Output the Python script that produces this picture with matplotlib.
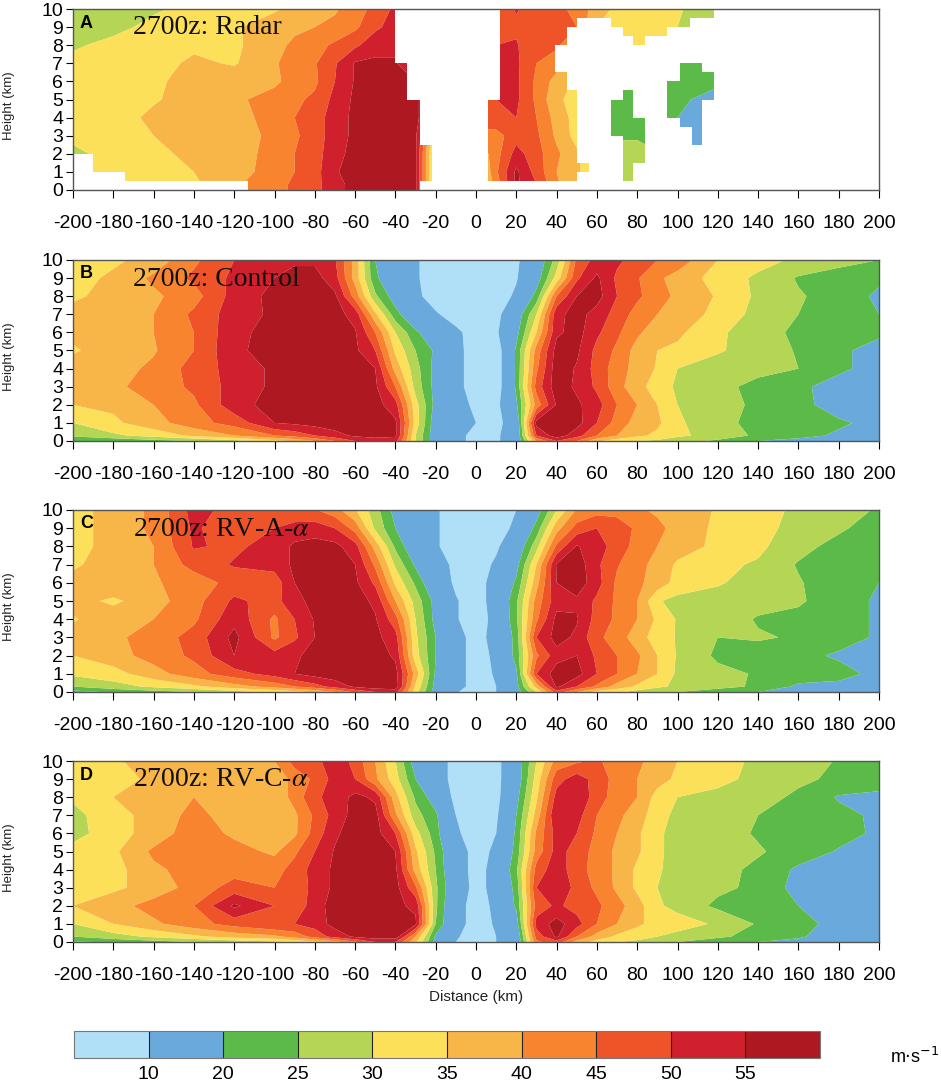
import numpy as np
import matplotlib
matplotlib.use("Agg")
import matplotlib.pyplot as plt
from matplotlib.colors import ListedColormap, BoundaryNorm
from matplotlib.cm import ScalarMappable

plt.rcParams['font.family'] = ['Liberation Sans', 'DejaVu Sans']
plt.rcParams['mathtext.fontset'] = 'stix'
plt.rcParams['axes.unicode_minus'] = False

distance = [-200,-180,-160,-140,-120,-100,-90,-80,-70,-60,-50,-40,-30,-20,-10,0,10,20,30,40,50,60,70,80,90,100,120,140,160,180,200]
height = [0,0.3,1,2,3,4,5,6,7,8,9,10]
levels = [0,10,20,25,30,35,40,45,50,55,100]
bar_labels = [10,20,25,30,35,40,45,50,55]
colors = ['#B0E0F8','#6AA9DC','#5CBB48','#B5D554','#FDE05A','#F8B548','#F9842F','#EE5427','#D01F2D','#AE1820']
titles = ['2700z: Radar','2700z: Control',r'2700z: RV-A-$\alpha$',r'2700z: RV-C-$\alpha$']
letters = ['A','B','C','D']

radar = [
[33,33,33,34,39,44,45.5,48,54,56,56,57,56,25,25,30,42,56,50,41,35,30,28,28,28,28,20,20,20,20,20],
[33,33,33,34,39,44,45.5,48,54,56,56,57,56,25,25,30,42,56,50,41,35,30,28,28,28,28,20,20,20,20,20],
[33,33,34,35,38,42,45,48,54.5,57,57,58,56,25,25,30,44,56,48,40,36,30,28,28,28,24,20,20,20,20,20],
[28,33,34,36,38,41.5,45,48,53,57,57,58,56,25,25,35,43,52,47,41,36,30,28,28,26,20,20,20,20,20,20],
[32,33,35,37.5,38,41,44,48,52,56.5,58,58,56,30,40,42,43,48,46,39,33,26,24,24,20,17,15,15,15,15,15],
[33,33,36,37,38,42,45,48,52,56.5,58,58,56,50,50,50,49,50,45,38,33,26,22,22,21,20,15,15,15,15,15],
[33,33,34.5,37,39,42,44,46,51.5,56,58,58,56,50,50,50,50,51,44,36,33,26,22,22,22,22,16,16,16,16,16],
[32,33,34,37,38,39,42,44,50,55.5,57,56,55,48,48,48,51,51,44,38,34,28,24,23,23,23,22,22,22,22,22],
[31,32,33,36,34.5,39.5,42,44.5,49.5,55.5,56,55.5,50,50,50,50,51,51,45,42,38,32,28,26,24,23,22,22,22,22,22],
[29.5,31,34.5,34,34,38.5,41,43,46,49,53,54,50,50,50,50,50,50.5,46,46,40,34,33,33,32,31,30,30,30,30,30],
[27.5,29,31,33,34.5,37,39,40,41,44,49,52,50,50,50,50,50,49,47,46,45,35,33,32,31,30,30,28,28,28,28],
[27,28,29.5,31,33,34.5,36,38,39.5,42,47,51,52,52,52,50,46,50.5,47,46,44,37,34,33,32,31,24,24,24,24,24],
]

control = [
[20,21,23,25,28,33,36,40,45,50,52,52,30,16,12,8,9,14,40,50,45,36,32,30,29,27,24,20,18,16,15],
[26,29,32,36,40,45,47,50,53,56,57,56,30,16,12,8,9,14,50,58,52,45,40,36,34,31,28,24,22,19,17],
[30,34,38,43,47,55,56,57,58,58,58,56,33,16,12,10,8,14,57,58,57,50,43,38,36,31,26,24,23,21,18],
[35,36,40,44,53,57,57.5,58,58,58,57,52,32,18,12,9,8,19,42,55.5,56,52,45,40,35,30,27,24,22,17,15],
[37.5,39,42,46,52,56,57,58,58,58,56,45,28,18,12,7,6,21,47,58,54,49,42,36.5,33,29,26,24,21,18,16],
[37,38,41,47,52,56,57,58,57.5,57,55,38,27,18,12,7,6,21,44,58,54.5,48,42.5,38,34.5,30,28,26,25,21,18],
[34.5,37,39.5,45,54,57,57.5,58,57,56,50,34,25,19,12,7,6,21,42,57,56,48.5,44,38,35,34,30.5,28,24.5,21,18],
[36,38,40,45,53.5,57,57.5,58,57,55.5,45,30,21,15,11,8,9,18,35,54,57,51,46,41,37,36,31,27,24,22,21],
[36,38,40,46,52.5,56,57,58,57,53,36,22,14,10.5,8,6,8,16,30,53.5,57,53,48,43,40,37,34,28,25,23,20],
[34.5,36,39,43,52,56.5,57,58,56,43,26,17,11,8,7,6,7,11,22,45,55,57,50,46,42,39,34.5,29,25.5,23,19],
[33,36,41,46,51,55,57,57,52,38,21,15,10.5,8,7,6,7,9.5,17,32,49,56,49,45.5,41,38,33,29,24.5,23,21],
[33,34,37,44,50,53,54,54,50.5,38,20,16,10.5,8,7,6,7,9,15,27,46,52,51,48,45,43,35,32,29,26.5,25],
]

rv_a = [
[18,21,23,25,28,31,33,36,40,46,50,52,32,17,10.5,7,10,17,30,48,40,33,31,28,26,25,22,20,17,16,15],
[25,28,31,34,38,42,45,48,52,56,58,58,34,18,12,8,10,18,37,56,50,44,38,34,31,29,27,24,19,18,17],
[31,33,38,43,48,52,55,57,58,58,58,57,38,19,12,8,10.5,19,50,57.5,57,50,45,40,35,29,26.5,24.5,23,22.5,18],
[35,38,42,46,55,52,54.5,56,57,58,58,54,32,20,12,8,11,22,44,53,55,49,45,41,35,29.5,24,23,22,19,18],
[37,39,42,47,56.5,44,49,55,57,57,56.5,52,31,20,12,8,12,22,50,57,54,46,43,37,33,29.5,25,25.5,24.5,23,19],
[34.5,38,40,44,53.5,44,50,55.5,57,57,55.5,47,30,18,10.5,7,12,24,44,56.5,55.5,48,44,40,34,29.5,28,24.5,24,23,19],
[37,34,38,43,51,48,54,56,57,57,54,40,28,18,10.5,7,13,24,42,53,54,49,44,40,30.5,28.5,28,27,25.5,23,19],
[37,39,39.5,42,47,47,55,57,57,56,49,34,24,14,9,7,13,21,38,55,58,52,44,41,38,33,30.5,28,25.5,21.5,20],
[34,38,40,47,50.5,52,56,57,57,55,44,29,19,12,9,7,11,18,35,55.5,58,51,45.5,41,39,34,31,29.5,24.5,22,20],
[33.5,36.5,40,50.5,49,52,56,57,56.5,52,38,24,15,10.5,8,6,9,15,28,46,55.5,52,48,43,40,38,33.5,31,27,23,21],
[33,37,41,51,46,50,52,52.5,50,43,29,20,13,10.5,8,7,8,11,22,38,47,50,48,44,41.5,38,34,32,28,26,22],
[33,37,41,52,48,47,46,45.5,42,35.5,27,18,14,10.5,8,7,8,10,17,30,40.5,43,43,41,39,38,34.5,32,29,27,24.5],
]

rv_c = [
[19,21,23,25,27,29,31,34,38,44,50,50,36,18,10,8,10,13,44,48,38,33,30,29,27,25,22,20,18,16,15],
[25,28,31,34,37,39,42,47,52,56,58,58,40,19,10.5,8,10,14,47,56,45,38,34,32,30,28,26,23,21,16,15],
[30,35,39,43,47,50,50,52,57,58,58,57,56,25,12,8,10.5,17,52,57,52,45,40,36,33,33,29,24.5,22,18,15],
[35,38,42,45,56,50,46,53,57,58,58,56,54,26,12,8,11,21,47,51,48,46,42,37,31,28,24,23,20,15,14],
[32,34,37,42,47,45,46,52,56,58,58,57,46,26,14,8,12,22,50,55,48,44,39,34,30,28,26,24,18,15,14],
[31.5,33,39,42,43,43,47,52,56,58,57,56,38,25,13,8,12,24,47,53,47,43,39,34,30.5,28.5,26.5,24,19,16,15],
[32,34,41,40,42,39,44,50,55.5,58,57,55,36,24,13,8,11,22,42,52,48,43,39,36,30.5,29,27,25.5,23,19.5,16],
[28,33,37,43,39,37,39,47,54,58,57,50,32,22,11,7,10,21,41,52,50,44,40,36,30.5,29,27,24.5,23,22,19],
[28,34,36,42,37,37,39,46,52,57,57,41,27,21,10,6,9,20,37,55,52,45,41,38,31.5,29,27,25,24,21.5,19],
[31,35,37,40,37,36,42,49,52,56.5,54,37,24,17,8,6,8,18,34,52,55,47,43,40,33,30,28,27,24,19.5,18],
[31,33,36,38,36,36,42,46,52,50,41,32,20,13,8,7,8,16,32,48,52.5,48,43,40,37,34,32,28,26,24,24],
[34,34,38,39,38,40,47,48,54,48,40,30,17,13,8,7,8,16,30,42,44,46,42,41,38,35,32,29,28,24.5,23],
]

# Radar coverage per 0.5 km layer (bottom of layer, distance intervals with data)
coverage_bottom = [0,0.5,1,1.5,2,2.5,3,3.5,4,4.5,5,5.5,6,6.5,7,7.5,8,8.5,9,9.5]
coverage_spans = [
[(-113,-28)],
[(-174,-22),(6,50),(73,78)],
[(-190,-22),(6,56),(73,78)],
[(-190,-22),(6,50),(73,84)],
[(-200,-22),(6,50),(73,84)],
[(-200,-28),(6,50),(73,84),(107,112)],
[(-200,-28),(6,50),(67,84),(107,112)],
[(-200,-28),(6,50),(67,84),(101,112)],
[(-200,-28),(6,50),(67,78),(95,112)],
[(-200,-28),(6,50),(67,78),(95,112)],
[(-200,-34),(12,50),(73,78),(95,118)],
[(-200,-34),(12,45),(95,118)],
[(-200,-34),(12,45),(101,118)],
[(-200,-34),(12,39),(101,112)],
[(-200,-40),(12,39)],
[(-200,-40),(12,39)],
[(-200,-40),(12,45),(78,84)],
[(-200,-40),(12,45),(73,95)],
[(-200,-40),(12,50),(67,106)],
[(-200,-40),(12,118)],
]

W, H = 941, 1082
fig = plt.figure(figsize=(W/100, H/100), dpi=100, facecolor='white')
tops = [9, 260, 510, 761]
bottoms = [190, 441, 692, 942]
fields = [radar, control, rv_a, rv_c]
cmap = ListedColormap(colors)
norm = BoundaryNorm(levels, cmap.N)
xt = list(range(-200, 201, 20))

for i in range(4):
    ax = fig.add_axes([73/W, 1-bottoms[i]/H, 806/W, (bottoms[i]-tops[i])/H])
    ax.contourf(distance, height, np.array(fields[i], float), levels=levels, cmap=cmap, norm=norm, antialiased=True)
    if i == 0:
        mask = np.ones((len(coverage_bottom), 400, 4))
        for r, spans in enumerate(coverage_spans):
            for a, b in spans:
                mask[r, a+200:b+200, 3] = 0
        ax.imshow(mask, extent=[-200, 200, 0, 10], origin='lower', aspect='auto',
                  interpolation='nearest', zorder=2)
    ax.set_xlim(-200, 200)
    ax.set_ylim(0, 10)
    ax.set_xticks(xt)
    ax.set_yticks(range(0, 11))
    ax.tick_params(axis='x', length=6, width=0.8, pad=12, labelsize=14)
    ax.tick_params(axis='y', length=5, width=0.8, pad=2, labelsize=14)
    for s in ax.spines.values():
        s.set_linewidth(1.0)
        s.set_color('#555555')
        s.set_zorder(5)
    fig.text(9/W, 1-(tops[i]+97)/H, 'Height (km)', fontsize=9.5, rotation=90, ha='center', va='center', color='#222222')
    fig.text(80/W, 1-(tops[i]+14)/H, letters[i], fontsize=13, fontweight='bold', ha='left', va='center')
    fig.text(133/W, 1-(tops[i]+19)/H, titles[i], fontsize=20, family=['Liberation Serif'], ha='left', va='center', color='#111111')
    if i == 3:
        fig.text(476/W, 1-997/H, 'Distance (km)', fontsize=11, ha='center', va='center', color='#222222')

cax = fig.add_axes([74/W, 1-1058/H, 746/W, 27/H])
sm = ScalarMappable(norm=norm, cmap=cmap)
cb = fig.colorbar(sm, cax=cax, orientation='horizontal', spacing='uniform', boundaries=levels,
                  ticks=bar_labels, drawedges=True)
cb.dividers.set_color('#222222')
cb.dividers.set_linewidth(0.8)
cb.outline.set_edgecolor('#777777')
cb.ax.minorticks_off()
cb.ax.tick_params(length=0, pad=6, labelsize=14)
cb.ax.set_xticklabels([str(v) for v in bar_labels])
fig.text(890/W, 1-1057/H, r'm$\cdot$s$^{-1}$', fontsize=13, ha='left', va='center',
         math_fontfamily='dejavusans')

fig.savefig('out.png', dpi=100)
